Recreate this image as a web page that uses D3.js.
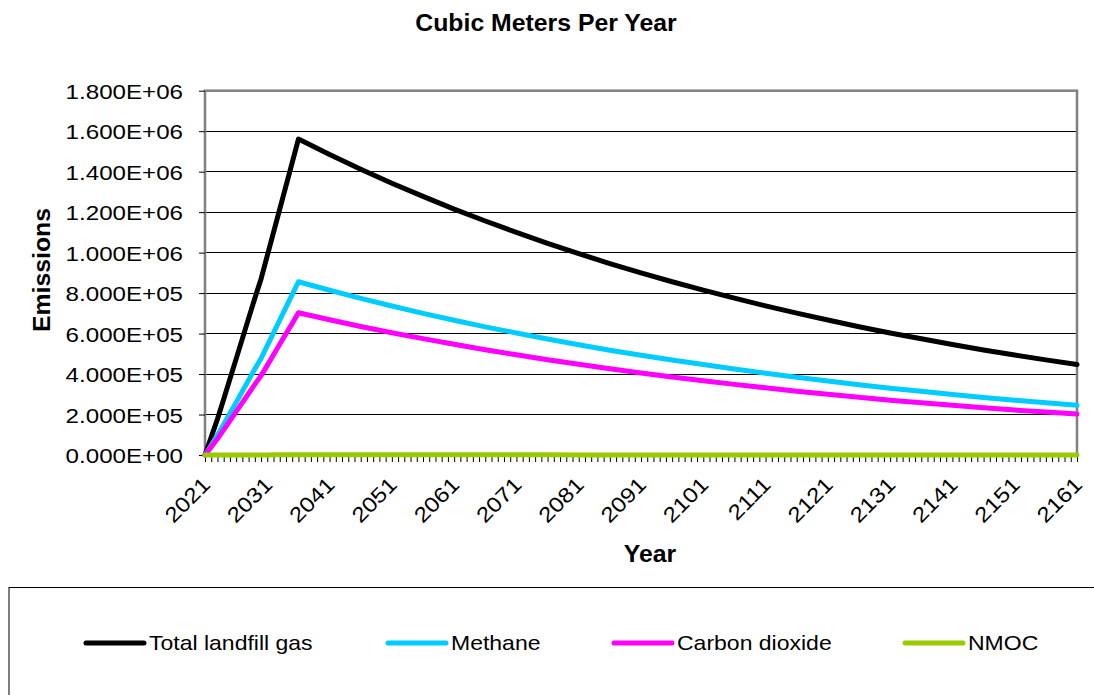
<!DOCTYPE html>
<html>
<head>
<meta charset="utf-8">
<script src="https://cdn.jsdelivr.net/npm/d3@7"></script>
<style>
  body { margin: 0; background: #fff; }
  svg { display: block; }
  text { font-family: "Liberation Sans", Arial, sans-serif; fill: #000; }
</style>
</head>
<body>
<svg id="chart" width="1094" height="695"></svg>
<script>
// Landfill gas emissions, cubic meters per year
const years = [
  2021, 2022, 2023, 2024, 2025, 2026, 2027, 2028, 2029, 2030, 2031, 2032, 2033, 2034, 2035, 2036,
  2041, 2046, 2051, 2056, 2061, 2066, 2071, 2076, 2081, 2086, 2091, 2096, 2101, 2106, 2111, 2116,
  2121, 2126, 2131, 2136, 2141, 2146, 2151, 2156, 2161
];
const totalGas = [
  0, 88000, 178000, 275000, 375000, 475000, 575000, 675000, 775000, 870000, 985000, 1100000, 1215000, 1330000, 1445000, 1561000,
  1485000, 1412000, 1343000, 1278000, 1215000, 1156000, 1100000, 1046000, 995000, 946000, 900000, 856000, 815000, 775000, 737000, 701000,
  667000, 634000, 603000, 574000, 546000, 519000, 494000, 470000, 447000
];
const methane = [
  0, 48000, 98000, 151000, 206000, 260000, 315000, 370000, 425000, 477000, 540000, 603000, 666000, 729000, 792000, 856000,
  814000, 774000, 736000, 700000, 666000, 633000, 603000, 573000, 545000, 518000, 493000, 469000, 447000, 425000, 404000, 384000,
  366000, 347000, 330000, 315000, 299000, 284000, 271000, 258000, 246000
];
const carbonDioxide = [
  0, 40000, 80000, 124000, 169000, 214000, 259000, 304000, 349000, 392000, 443000, 495000, 547000, 599000, 650000, 703000,
  668000, 635000, 604000, 575000, 547000, 520000, 495000, 471000, 448000, 426000, 405000, 385000, 367000, 349000, 332000, 315000,
  300000, 285000, 271000, 258000, 246000, 234000, 222000, 212000, 202000
];
const nmoc = [
  0, 53, 107, 165, 225, 285, 345, 405, 465, 522, 591, 660, 729, 798, 867, 937,
  891, 847, 806, 767, 729, 694, 660, 628, 597, 568, 540, 514, 489, 465, 442, 421,
  400, 380, 362, 344, 328, 312, 296, 282, 268
];

const seriesNames = ["Total landfill gas", "Methane", "Carbon dioxide", "NMOC"];
const seriesColors = ["#000000", "#00CCFF", "#FF00FF", "#99CC00"];
const seriesValues = [totalGas, methane, carbonDioxide, nmoc];

const yTickValues = [0, 200000, 400000, 600000, 800000, 1000000, 1200000, 1400000, 1600000, 1800000];
const yTickLabels = ["0.000E+00", "2.000E+05", "4.000E+05", "6.000E+05", "8.000E+05",
                     "1.000E+06", "1.200E+06", "1.400E+06", "1.600E+06", "1.800E+06"];
const xTickLabels = ["2021", "2031", "2041", "2051", "2061", "2071", "2081", "2091",
                     "2101", "2111", "2121", "2131", "2141", "2151", "2161"];

const chartTitle = "Cubic Meters Per Year";
const xTitle = "Year";
const yTitle = "Emissions";

// regular labels use a face set a little wider than Liberation Sans
const STRETCH = 1.15;

const svg = d3.select("#chart");
const plot = { left: 205, right: 1077, top: 90.7, bottom: 455 };

const x = d3.scaleLinear().domain([2021, 2161]).range([plot.left, plot.right]);
const y = d3.scaleLinear().domain([0, 1800000]).range([plot.bottom, plot.top]);

// gridlines
svg.append("g")
  .selectAll("line")
  .data(yTickValues.slice(1, -1))
  .join("line")
  .attr("x1", plot.left).attr("x2", plot.right)
  .attr("y1", d => y(d)).attr("y2", d => y(d))
  .attr("stroke", "#000").attr("stroke-width", 1)
  .attr("shape-rendering", "crispEdges");

// plot frame
svg.append("rect")
  .attr("x", plot.left).attr("y", plot.top)
  .attr("width", plot.right - plot.left).attr("height", plot.bottom - plot.top)
  .attr("fill", "none").attr("stroke", "#808080").attr("stroke-width", 2.5);

// y axis
const yAxis = svg.append("g")
  .attr("transform", `translate(${plot.left},0)`)
  .call(d3.axisLeft(y).tickValues(yTickValues).tickSize(6)
    .tickFormat((d, i) => yTickLabels[i]));
yAxis.select(".domain").remove();
yAxis.selectAll(".tick line").attr("stroke", "#000");
yAxis.selectAll(".tick text")
  .attr("x", 0).attr("dy", "0.36em")
  .attr("transform", `translate(-22,0) scale(${STRETCH},1)`)
  .style("font-size", "21px")
  .attr("fill", "#000");

// x axis: a tick every year, a label every ten years
const allYears = d3.range(2021, 2162);
const xAxis = svg.append("g")
  .attr("transform", `translate(0,${plot.bottom})`)
  .call(d3.axisBottom(x).tickValues(allYears).tickSize(7)
    .tickFormat(d => xTickLabels.includes(String(d)) ? String(d) : ""));
xAxis.select(".domain").remove();
xAxis.selectAll(".tick line").attr("stroke", "#000");
xAxis.selectAll(".tick text")
  .attr("x", 0).attr("y", 0).attr("dy", 0)
  .attr("text-anchor", "end")
  .attr("transform", `translate(6,31) rotate(-45) scale(${STRETCH},1)`)
  .style("font-size", "21px")
  .attr("fill", "#000");

// series lines
const line = d3.line()
  .x((d, i) => x(years[i]))
  .y(d => y(d));

svg.append("g")
  .selectAll("path")
  .data(seriesValues)
  .join("path")
  .attr("d", d => line(d))
  .attr("fill", "none")
  .attr("stroke", (d, i) => seriesColors[i])
  .attr("stroke-width", 5)
  .attr("stroke-linejoin", "round")
  .attr("stroke-linecap", "round");

// titles (bold, normal width)
function boldTitle(tx, ty, rot, str) {
  svg.append("text")
    .attr("transform", `translate(${tx},${ty}) rotate(${rot})`)
    .attr("text-anchor", "middle")
    .style("font-size", "24.8px")
    .style("font-weight", "bold")
    .text(str);
}
boldTitle(546, 31, 0, chartTitle);
boldTitle(650, 562, 0, xTitle);
boldTitle(49.5, 270, -90, yTitle);

// legend
const legend = svg.append("g");
legend.append("rect")
  .attr("x", 9).attr("y", 587.5)
  .attr("width", 1100).attr("height", 200)
  .attr("fill", "none").attr("stroke", "#000").attr("stroke-width", 1);

const legendX = [86, 388, 614, 905];
seriesNames.forEach((name, i) => {
  const g = legend.append("g").attr("transform", `translate(${legendX[i]},643)`);
  g.append("line")
    .attr("x1", 0).attr("x2", 58).attr("y1", 0).attr("y2", 0)
    .attr("stroke", seriesColors[i]).attr("stroke-width", 5)
    .attr("stroke-linecap", "round");
  g.append("text")
    .attr("transform", `translate(63,7.2) scale(${STRETCH},1)`)
    .style("font-size", "20px")
    .text(name);
});
</script>
</body>
</html>
